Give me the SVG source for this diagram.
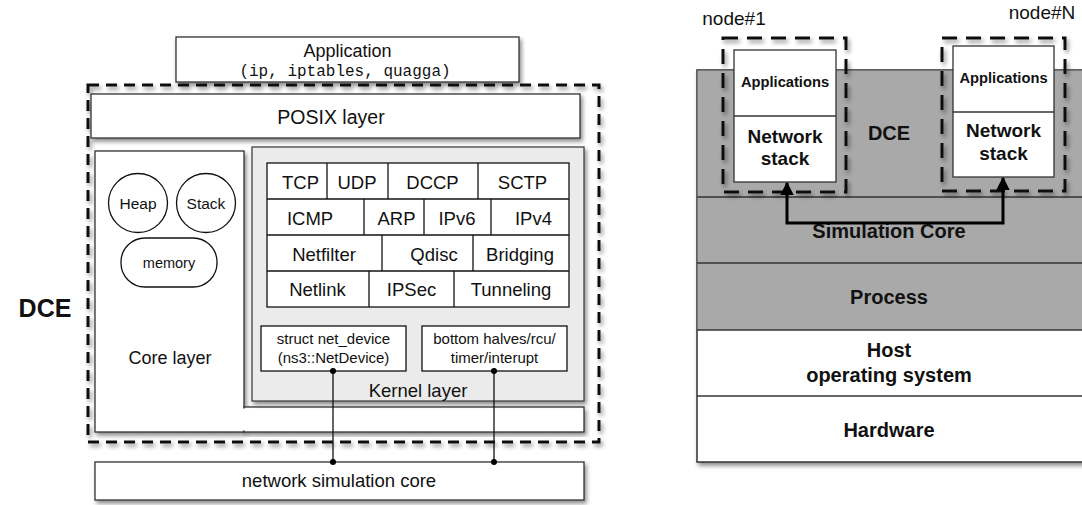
<svg xmlns="http://www.w3.org/2000/svg" width="1082" height="505" viewBox="0 0 1082 505">
<defs>
<filter id="sh" x="-10%" y="-10%" width="130%" height="130%">
<feDropShadow dx="2" dy="3" stdDeviation="2" flood-color="#000" flood-opacity="0.45"/>
</filter>
<marker id="ah" viewBox="0 0 10 10" refX="9" refY="5" markerWidth="4.5" markerHeight="4.5" orient="auto-start-reverse">
<path d="M0,0 L10,5 L0,10 z" fill="#000"/>
</marker>
</defs>
<style>
text{font-family:"Liberation Sans",Arial,sans-serif;fill:#111;text-anchor:middle}
.box{fill:#fff;stroke:#333;stroke-width:1.3}
.cell{fill:#fff;stroke:#111;stroke-width:1.3}
.dash{fill:none;stroke:#111;stroke-width:3;stroke-dasharray:11 7}
.dash2{fill:none;stroke:#111;stroke-width:3;stroke-dasharray:15 9}
.b{font-weight:bold}
.wire{stroke:#111;stroke-width:1.3;fill:none}
.arr{stroke:#000;stroke-width:3;fill:none}
</style>

<!-- LEFT DIAGRAM -->
<g id="dce-label"><text x="45" y="317" class="b" font-size="25">DCE</text></g>

<g id="application">
<rect class="box" x="176" y="37" width="343" height="45" filter="url(#sh)"/>
<text x="347.5" y="57" font-size="18">Application</text>
<text x="345" y="76" font-size="16" style="font-family:'Liberation Mono','Courier New',monospace">(ip, iptables, quagga)</text>
</g>

<g id="dce-box"><rect class="dash" x="88" y="85" width="511" height="357" filter="url(#sh)"/></g>

<g id="posix">
<rect class="box" x="91" y="94" width="489" height="44" filter="url(#sh)"/>
<text x="331" y="124" font-size="19.5">POSIX layer</text>
</g>

<g id="core-layer">
<rect class="box" x="95" y="151" width="149" height="281" filter="url(#sh)"/>
<rect class="box" x="244" y="407" width="340" height="25" filter="url(#sh)"/>
<rect x="240" y="408.5" width="6" height="22" fill="#fff"/>
<text x="170" y="364" font-size="18">Core layer</text>
</g>

<g id="heap"><circle cx="138" cy="203" r="29.5" class="cell" stroke-width="1.1"/><text x="138" y="209" font-size="15.5">Heap</text></g>
<g id="stack"><circle cx="206" cy="203" r="29.5" class="cell" stroke-width="1.1"/><text x="206" y="209" font-size="15.5">Stack</text></g>
<g id="memory"><rect x="121" y="238" width="96" height="49" rx="24" class="cell" stroke-width="1.1"/><text x="169" y="268" font-size="14.5">memory</text></g>

<g id="kernel-layer">
<rect x="252" y="147" width="332" height="254" fill="#ebebeb" stroke="#444" stroke-width="1.3" filter="url(#sh)"/>
<text x="418" y="397" font-size="18.5">Kernel layer</text>
</g>

<g id="protocols" font-size="18.5">
<rect class="cell" x="267" y="163" width="302" height="144"/>
<line class="cell" x1="267" y1="199" x2="569" y2="199"/>
<line class="cell" x1="267" y1="235" x2="569" y2="235"/>
<line class="cell" x1="267" y1="271" x2="569" y2="271"/>
<line class="cell" x1="327" y1="163" x2="327" y2="199"/>
<line class="cell" x1="388" y1="163" x2="388" y2="199"/>
<line class="cell" x1="478" y1="163" x2="478" y2="199"/>
<line class="cell" x1="364" y1="199" x2="364" y2="235"/>
<line class="cell" x1="424" y1="199" x2="424" y2="235"/>
<line class="cell" x1="491" y1="199" x2="491" y2="235"/>
<line class="cell" x1="382" y1="235" x2="382" y2="271"/>
<line class="cell" x1="473" y1="235" x2="473" y2="271"/>
<line class="cell" x1="369" y1="271" x2="369" y2="307"/>
<line class="cell" x1="454" y1="271" x2="454" y2="307"/>
<text x="300.5" y="189">TCP</text>
<text x="357" y="189">UDP</text>
<text x="432.5" y="189">DCCP</text>
<text x="522.5" y="189">SCTP</text>
<text x="310" y="225">ICMP</text>
<text x="396.5" y="225">ARP</text>
<text x="457" y="225">IPv6</text>
<text x="533.5" y="225">IPv4</text>
<text x="324" y="261">Netfilter</text>
<text x="434" y="261">Qdisc</text>
<text x="520" y="261">Bridging</text>
<text x="317.5" y="296">Netlink</text>
<text x="411.5" y="296">IPSec</text>
<text x="511" y="296">Tunneling</text>
</g>

<g id="net-device">
<rect class="cell" x="261" y="326" width="145" height="45" stroke="#333"/>
<text x="333.5" y="344" font-size="15">struct net_device</text>
<text x="333.5" y="363" font-size="15">(ns3::NetDevice)</text>
</g>
<g id="bottom-halves">
<rect class="cell" x="422" y="326" width="145" height="45" stroke="#333"/>
<text x="494.5" y="344" font-size="15">bottom halves/rcu/</text>
<text x="494.5" y="363" font-size="15">timer/interupt</text>
</g>

<g id="netsim-core">
<rect class="box" x="95" y="462" width="489" height="38" filter="url(#sh)"/>
<text x="339" y="487" font-size="18.5">network simulation core</text>
</g>

<g id="connectors-left">
<line class="wire" x1="333" y1="371" x2="333" y2="462"/>
<line class="wire" x1="494" y1="371" x2="494" y2="462"/>
<circle cx="333" cy="371" r="3" fill="#000"/>
<circle cx="333" cy="462" r="3" fill="#000"/>
<circle cx="494" cy="371" r="3" fill="#000"/>
<circle cx="494" cy="462" r="3" fill="#000"/>
</g>

<!-- RIGHT DIAGRAM -->
<g id="stack-layers">
<rect x="697" y="70" width="390" height="392" fill="#fff" stroke="#333" stroke-width="1.5" filter="url(#sh)"/>
<rect x="697.75" y="70.75" width="390" height="259.25" fill="#a9a9a9"/>
<line x1="697" y1="197" x2="1082" y2="197" stroke="#333" stroke-width="1.5"/>
<line x1="697" y1="263" x2="1082" y2="263" stroke="#333" stroke-width="1.5"/>
<line x1="697" y1="330" x2="1082" y2="330" stroke="#333" stroke-width="1.5"/>
<line x1="697" y1="396" x2="1082" y2="396" stroke="#333" stroke-width="1.5"/>
<text x="889" y="140" class="b" font-size="20">DCE</text>
<text x="889" y="238" class="b" font-size="20">Simulation Core</text>
<text x="889" y="304" class="b" font-size="20">Process</text>
<text x="889" y="357" class="b" font-size="20">Host</text>
<text x="889" y="382" class="b" font-size="20">operating system</text>
<text x="889" y="437" class="b" font-size="20">Hardware</text>
</g>

<g id="node1">
<text x="734" y="25" font-size="19">node#1</text>
<rect class="dash2" x="723" y="38" width="123" height="154" filter="url(#sh)"/>
<rect class="box" x="734" y="50" width="102" height="132"/>
<line x1="734" y1="116" x2="836" y2="116" stroke="#333" stroke-width="1.3"/>
<text x="785" y="87" class="b" font-size="14.7">Applications</text>
<text x="785" y="143" class="b" font-size="19">Network</text>
<text x="785" y="165" class="b" font-size="19">stack</text>
</g>

<g id="nodeN">
<text x="1042" y="19" font-size="19">node#N</text>
<rect class="dash2" x="942" y="38" width="123" height="153" filter="url(#sh)"/>
<rect class="box" x="953" y="46" width="101" height="131"/>
<line x1="953" y1="112" x2="1054" y2="112" stroke="#333" stroke-width="1.3"/>
<text x="1003.5" y="83" class="b" font-size="14.7">Applications</text>
<text x="1003.5" y="137" class="b" font-size="19">Network</text>
<text x="1003.5" y="160" class="b" font-size="19">stack</text>
</g>

<g id="connectors-right">
<path class="arr" d="M787,183 L787,223 L1003,223 L1003,178" marker-start="url(#ah)" marker-end="url(#ah)"/>
</g>
</svg>
